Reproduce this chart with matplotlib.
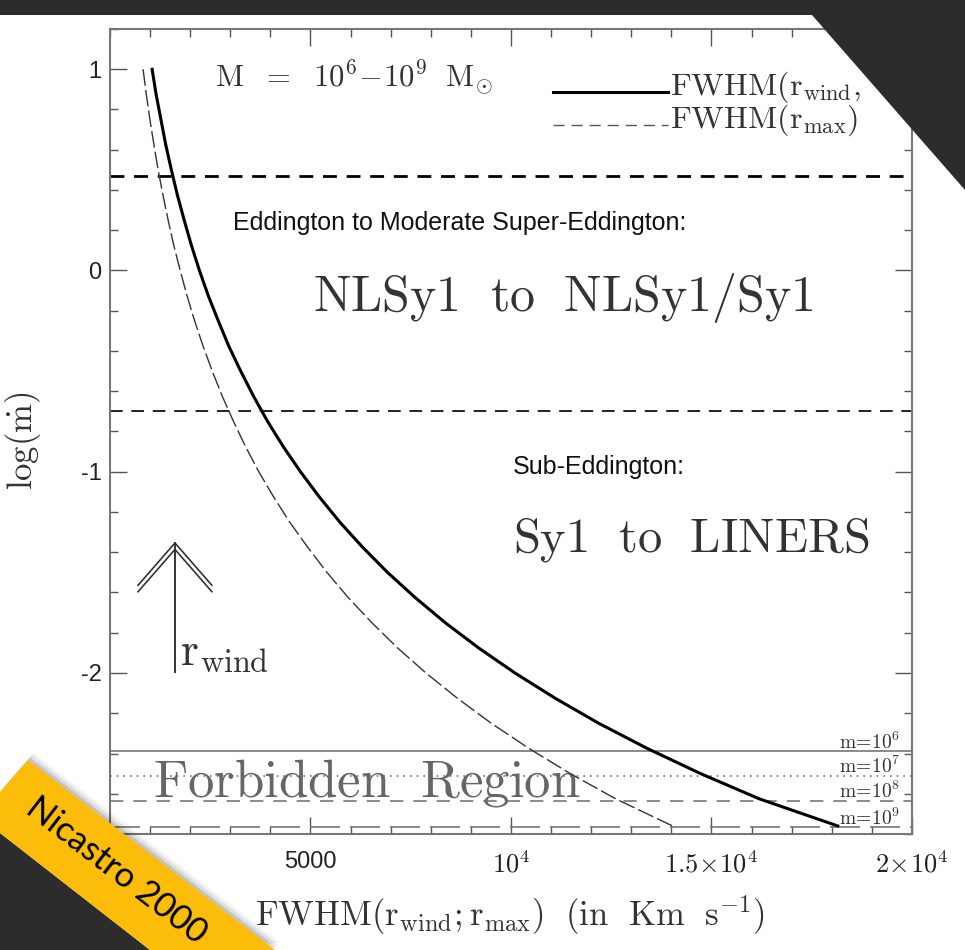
import numpy as np
import matplotlib
matplotlib.use('Agg')
import matplotlib.pyplot as plt
from matplotlib.patches import Polygon
from matplotlib.ticker import MultipleLocator

plt.rcParams['mathtext.fontset'] = 'cm'
plt.rcParams['font.family'] = ['Liberation Sans', 'DejaVu Sans']

# FWHM(r_wind) and FWHM(r_max) curves, km/s vs log(mdot)
log_mdot = [1.0, 0.875, 0.75, 0.625, 0.5, 0.375, 0.25, 0.125, 0.0,
            -0.125, -0.25, -0.375, -0.5, -0.625, -0.75, -0.875, -1.0,
            -1.125, -1.25, -1.375, -1.5, -1.625, -1.75, -1.875, -2.0,
            -2.125, -2.25, -2.375, -2.5, -2.625, -2.76]
fwhm_wind = [1050, 1150, 1270, 1390, 1530, 1680, 1850, 2030, 2230,
             2450, 2700, 2960, 3260, 3580, 3930, 4320, 4750,
             5220, 5730, 6300, 6920, 7610, 8360, 9190, 10100,
             11100, 12190, 13400, 14730, 16190, 18150]
fwhm_max = [825, 905, 995, 1095, 1200, 1320, 1450, 1590, 1750,
            1920, 2110, 2320, 2550, 2800, 3080, 3380, 3710,
            4080, 4480, 4930, 5410, 5940, 6530, 7170, 7880,
            8660, 9510, 10450, 11480, 12610, 14030]

# regime boundaries in log(mdot)
super_edd = 0.47
sub_edd = -0.70

# lower limits for each black hole mass
mass_labels = ['10^6', '10^7', '10^8', '10^9']
mass_limits = [-2.39, -2.51, -2.635, -2.765]
mass_styles = ['-', (0, (1, 3)), (0, (8, 6)), (0, (18, 6))]

W, H = 965, 950
fig = plt.figure(figsize=(W / 100, H / 100), dpi=100, facecolor='white')
ax = fig.add_axes([0.114, 0.1221, 0.831, 0.8474])


def px(x, y):
    return (x / W, 1 - y / H)


ax.plot(fwhm_wind, log_mdot, color='black', lw=2.2, zorder=4)
ax.plot(fwhm_max, log_mdot, color='#333333', lw=1.0,
        linestyle=(0, (12, 3)), zorder=4)

ax.axhline(super_edd, color='black', lw=2.0, linestyle=(0, (5, 3.5)))
ax.axhline(sub_edd, color='#222222', lw=1.4, linestyle=(0, (6.5, 4.5)))
for lab, lim, ls in zip(mass_labels, mass_limits, mass_styles):
    ax.axhline(lim, color='#777777', lw=1.2, linestyle=ls)
    ax.text(0.985, lim + 0.045, r'$\mathrm{m\!=\!%s}$' % lab,
            transform=ax.get_yaxis_transform(), ha='right', va='center',
            fontsize=14, color='#333333')

ax.set_xlim(0, 20000)
ax.set_ylim(-2.8, 1.2)

ax.xaxis.set_major_locator(MultipleLocator(5000))
ax.xaxis.set_minor_locator(MultipleLocator(1000))
ax.yaxis.set_major_locator(MultipleLocator(1))
ax.yaxis.set_minor_locator(MultipleLocator(0.2))
ax.set_xticks([5000, 10000, 15000, 20000],
              ['5000', r'$10^4$', r'$1.5\!\times\!10^4$', r'$2\!\times\!10^4$'])
ax.set_yticks([-2, -1, 0, 1], ['-2', '-1', '0', '1'])
ax.tick_params(which='both', direction='in', top=True, right=True,
               color='#555555', width=1.0, labelcolor='#222222')
ax.tick_params(which='major', length=12, labelsize=17)
ax.tick_params(which='minor', length=6)
ax.tick_params(axis='x', pad=12)
ax.tick_params(axis='y', pad=6)
for lbl in ax.get_xticklabels()[1:]:
    lbl.set_fontsize(19)
for s in ax.spines.values():
    s.set_color('#777777')
    s.set_linewidth(1.5)

ax.set_xlabel(r'$\mathrm{FWHM(r_{wind};r_{max})\ \ (in\ \ Km\ \ s^{-1})}$',
              fontsize=25, color='#333333')
ax.xaxis.set_label_coords(0.499, -0.073)
ax.set_ylabel(r'$\mathrm{log}(\dot{\mathrm{m}})$', fontsize=25,
              color='#333333')
ax.yaxis.set_label_coords(-0.083, 0.489)

serif = dict(transform=ax.transAxes, color='#333333', va='center')
ax.text(0.131, 0.939, r'$\mathrm{M\ \ =\ \ 10^6\!-\!10^9\ \ M_{\odot}}$',
        fontsize=22, **serif)
ax.text(0.253, 0.666, r'$\mathrm{NLSy1\ \ to\ \ NLSy1/Sy1}$',
        fontsize=36, **serif)
ax.text(0.502, 0.365, r'$\mathrm{Sy1\ \ to\ \ LINERS}$', fontsize=35, **serif)
ax.text(0.054, 0.063, r'$\mathrm{Forbidden\ \ Region}$', fontsize=38,
        transform=ax.transAxes, color='#666666', va='center')
ax.text(0.153, 0.759, 'Eddington to Moderate Super-Eddington:',
        fontsize=18, transform=ax.transAxes, va='center', color='#111111')
ax.text(0.502, 0.456, 'Sub-Eddington:', fontsize=18,
        transform=ax.transAxes, va='center', color='#111111')

# legend drawn by hand
ax.plot([0.552, 0.696], [0.922, 0.922], transform=ax.transAxes,
        color='black', lw=2.2)
ax.plot([0.552, 0.696], [0.881, 0.881], transform=ax.transAxes,
        color='#555555', lw=1.0, linestyle=(0, (8, 5)))
ax.text(0.698, 0.928, r'$\mathrm{FWHM(r_{wind},}$', fontsize=23, **serif)
ax.text(0.698, 0.887, r'$\mathrm{FWHM(r_{max})}$', fontsize=23, **serif)

# r_wind arrow
ax.plot([0.081, 0.081], [0.201, 0.3615], transform=ax.transAxes,
        color='#333333', lw=1.4)
for dy in (0.0, -0.008):
    ax.plot([0.035, 0.081, 0.127], [0.309 + dy, 0.3615 + dy, 0.309 + dy],
            transform=ax.transAxes, color='#333333', lw=1.2)
ax.text(0.087, 0.225, r'$\mathrm{r_{wind}}$', fontsize=33, **serif)

# paper edges and corner banner
dark = '#2c2c2c'
for poly in ([(0, 0), (W, 0), (W, 15), (0, 15)],
             [(812, 15), (W, 15), (W, 190)],
             [(0, 833), (150, H), (0, H)]):
    fig.patches.append(Polygon([px(*p) for p in poly], closed=True,
                               transform=fig.transFigure, facecolor=dark,
                               edgecolor='none', zorder=5))

band = [(28, 760), (275, H), (150, H), (0, 833), (0, 792)]
for k, a in ((9, 0.05), (6, 0.08), (3, 0.12)):
    shadow = [(x + 0.609 * k, y - 0.792 * k) for x, y in band]
    fig.patches.append(Polygon([px(*p) for p in shadow], closed=True,
                               transform=fig.transFigure, facecolor='black',
                               alpha=a, edgecolor='none', zorder=6))
fig.patches.append(Polygon([px(*p) for p in band], closed=True,
                           transform=fig.transFigure, facecolor='#fcbd0a',
                           edgecolor='none', zorder=7))
fig.text(*px(116, 871), 'Nicastro 2000', fontsize=25, family='Lato',
         rotation=-37.6, rotation_mode='anchor', ha='center', va='center',
         color='black', zorder=8)

fig.savefig('out.png', dpi=100, facecolor=fig.get_facecolor())
